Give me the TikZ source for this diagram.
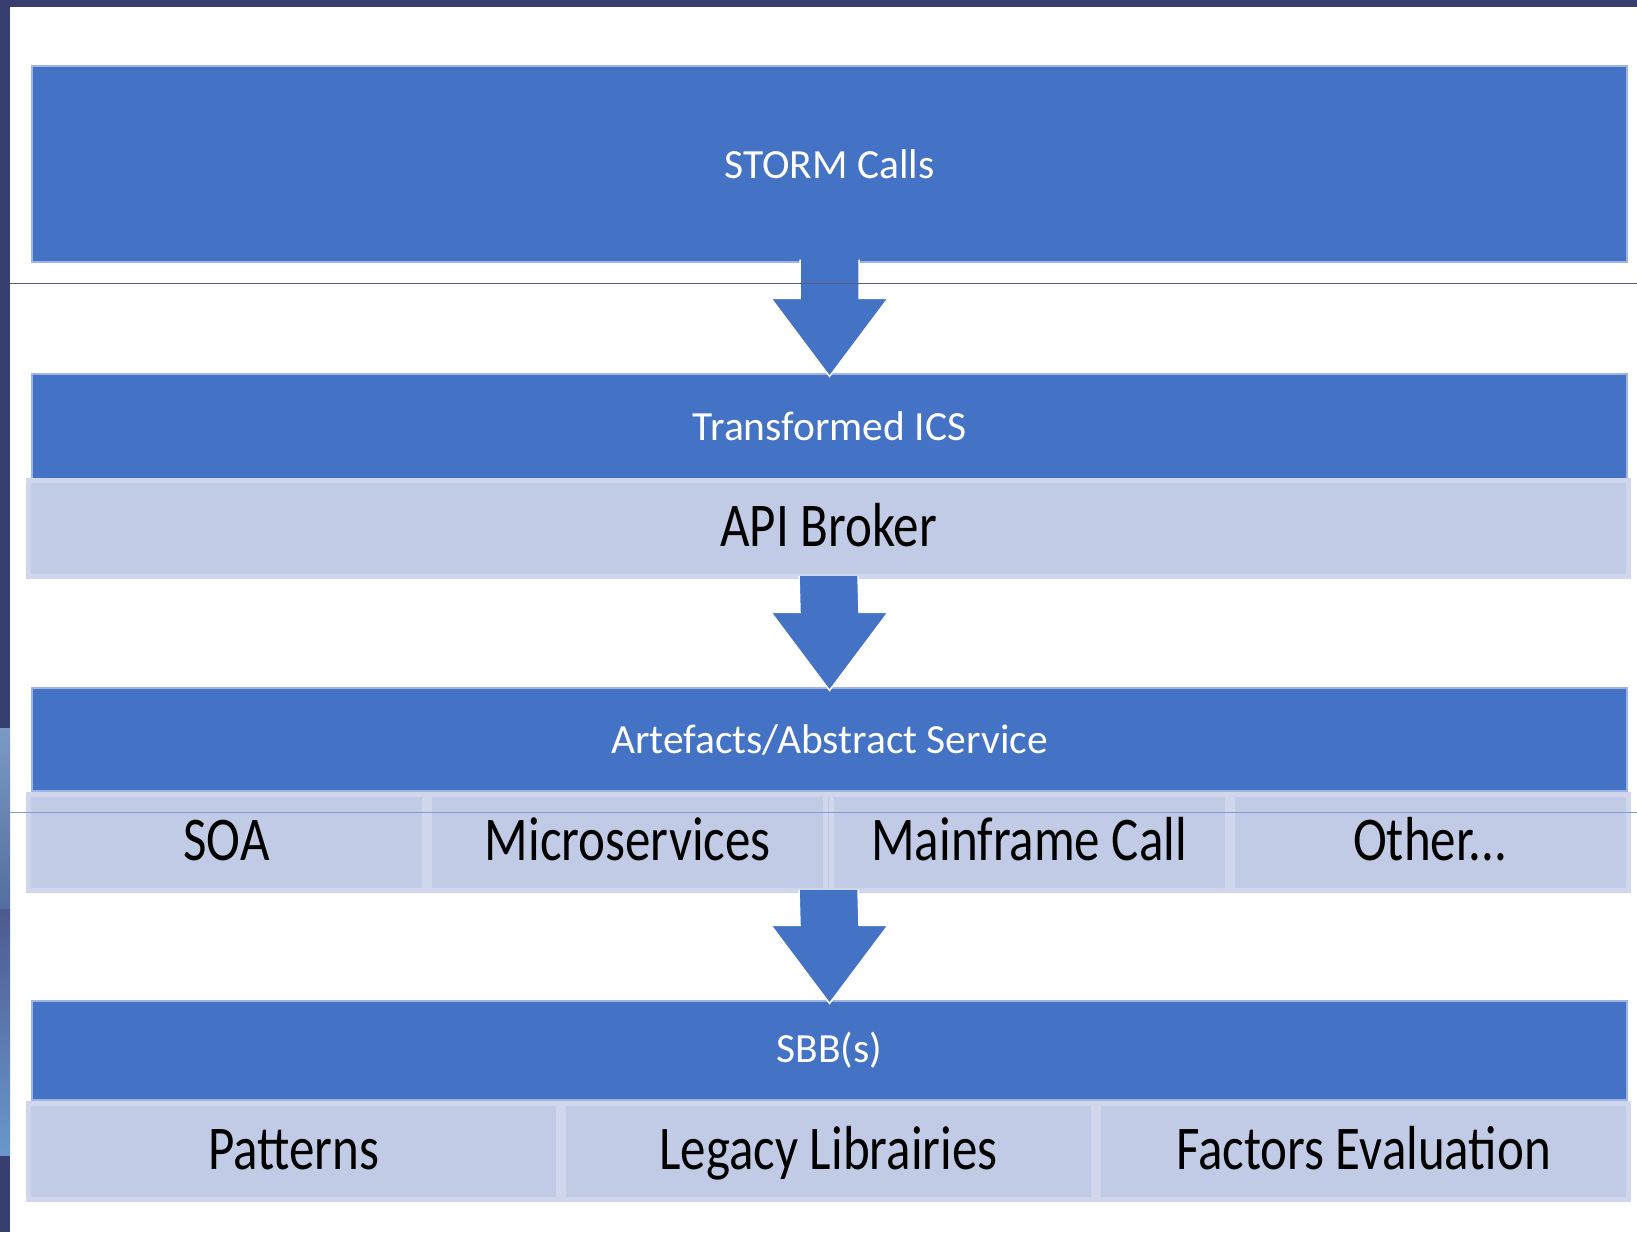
\documentclass[tikz,border=0pt]{standalone}
\usepackage{fontspec}
\setmainfont{Carlito}
\usetikzlibrary{calc,positioning}
\definecolor{barblue}{RGB}{68,114,196}
\definecolor{baredge}{RGB}{160,180,225}
\definecolor{cellfill}{RGB}{194,203,229}
\definecolor{celledge}{RGB}{208,214,236}
\definecolor{framenavy}{RGB}{54,63,110}
\newcommand{\tallText}[1]{\scalebox{1}[1.22]{#1}}
\newcommand{\otherText}{Other...}

\begin{document}
\begin{tikzpicture}[x=1pt, y=-1pt,
  bar/.style={draw=baredge, line width=1.2pt, fill=barblue, text=white, minimum width=1595pt, inner sep=0pt, font=\fontsize{41.5}{50}\selectfont},
  cell/.style={draw=celledge, line width=5pt, fill=cellfill, inner sep=0pt, minimum height=96pt, text height=48pt, text depth=13pt, font=\fontsize{51}{60}\selectfont},
  blockarrow/.style={fill=barblue, draw=white, line width=1.5pt}]
\useasboundingbox (0,0) rectangle (1637,1232);
\fill[white] (0,0) rectangle (1637,1232);
% frame on the left and on top
\fill[framenavy] (0,0) rectangle (10,1232);
\shade[top color={rgb,255:red,123;green,154;blue,196}, bottom color={rgb,255:red,82;green,110;blue,158}] (0,728) rectangle (10,909);
\shade[top color={rgb,255:red,78;green,90;blue,142}, bottom color={rgb,255:red,104;green,152;blue,206}] (0,909) rectangle (10,1155);
\fill[framenavy] (0,0) rectangle (1637,7);

\node[bar, minimum height=196pt] (storm) at (829.5,164) {STORM Calls};
\node[bar, minimum height=105pt] (ics) at (829.5,426.5) {Transformed ICS};
\node[cell, minimum width=1600pt] (api) at (828.5,528.5) {\tallText{API Broker}};

\node[bar, minimum height=103pt] (art) at (829.5,739.5) {Artefacts/Abstract Service};
\node[cell, minimum width=1600pt] (svcrow) at (828.5,842.5) {};
\foreach \i/\txt in {0/SOA,1/Microservices,2/Mainframe Call,3/\otherText} {
    \node[cell, minimum width=396pt] (svc\i) at (226.6+401.25*\i,842.5) {\tallText{\txt}};
}

\node[bar, minimum height=99pt] (sbb) at (829.5,1050.5) {SBB(s)};
\node[cell, minimum width=1600pt] (librow) at (828.5,1151.5) {};
\foreach \i/\txt in {0/Patterns,1/Legacy Librairies,2/Factors Evaluation} {
    \node[cell, minimum width=530pt] (lib\i) at (293.5+535*\i,1151.5) {\tallText{\txt}};
}

% block arrows between the layers
\foreach \src/\dst in {storm/ics, api/art, svcrow/sbb} {
    \filldraw[blockarrow] ($(\src.south)+(-29.5,-3)$) -- ($(\dst.north)+(-29.5,-75)$) -- ($(\dst.north)+(-58.5,-75)$)
        -- ($(\dst.north)+(0,3)$) -- ($(\dst.north)+(58.5,-75)$) -- ($(\dst.north)+(29.5,-75)$) -- ($(\src.south)+(29.5,-3)$);
}

% stray rules across the slide
\draw[line width=1pt, framenavy!85] (10,283) -- (1637,283);
\draw[line width=1pt, barblue!70] (10,812) -- (1637,812);
\end{tikzpicture}
\end{document}
